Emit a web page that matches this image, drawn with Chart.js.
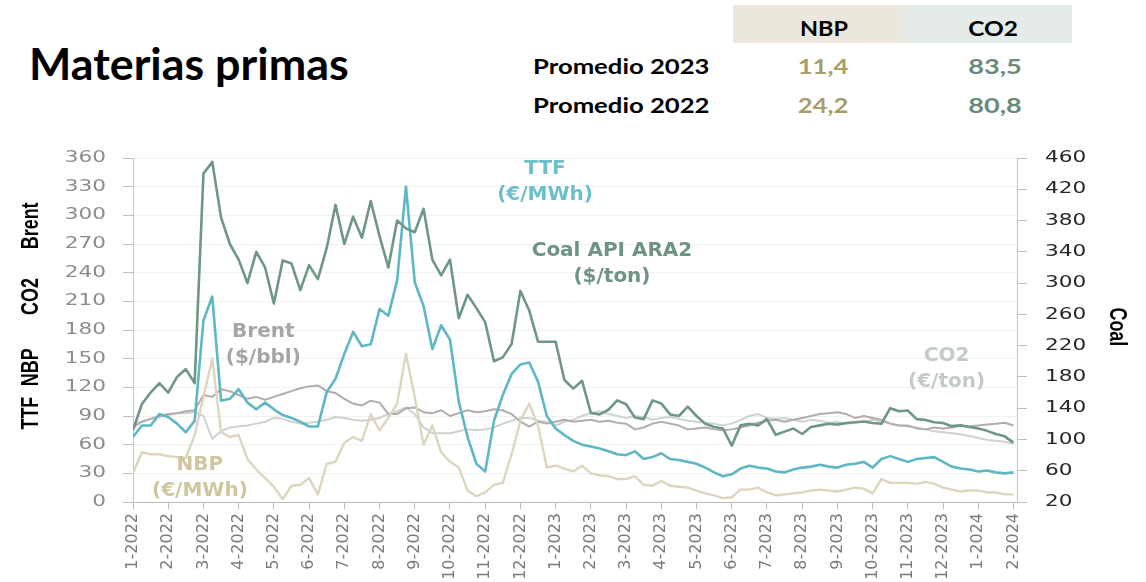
<!DOCTYPE html>
<html>
<head>
<meta charset="utf-8">
<title>Materias primas</title>
<script src="https://cdn.jsdelivr.net/npm/chart.js@4.4.1/dist/chart.umd.min.js"></script>
<style>
  body { margin: 0; width: 1146px; height: 582px; background: #fff; overflow: hidden; position: relative; font-family: Lato, "Open Sans", sans-serif; }
  .txt { position: absolute; font-weight: bold; line-height: 1; white-space: nowrap; font-size: 21px; color: #000; }
  .left { transform-origin: 0 50%; }
  .center { transform-origin: 50% 50%; }
  #title { left: 29px; top: 42px; font-size: 43px; }
  .band { position: absolute; top: 5px; height: 38px; }
  .nbp { color: #a99d6a; }
  .co2 { color: #6a8a7b; }
  #chartBox { position: absolute; left: 0; top: 140px; }
</style>
</head>
<body>
<div id="title" class="txt left" data-w="320">Materias primas</div>

<div class="band" style="left:733px;width:170px;background:#ebe7dc"></div>
<div class="band" style="left:903px;width:169px;background:#e5ebe8"></div>
<div class="txt center" style="left:824px;top:17px" data-w="48">NBP</div>
<div class="txt center" style="left:993px;top:17px" data-w="50">CO2</div>

<div class="txt left" style="left:533px;top:55px" data-w="176">Promedio 2023</div>
<div class="txt left" style="left:533px;top:94px" data-w="176">Promedio 2022</div>
<div class="txt center nbp" style="left:823px;top:55px" data-w="50">11,4</div>
<div class="txt center co2" style="left:995px;top:55px" data-w="53">83,5</div>
<div class="txt center nbp" style="left:823px;top:94px" data-w="50">24,2</div>
<div class="txt center co2" style="left:995px;top:94px" data-w="53">80,8</div>

<div id="chartBox"><canvas id="chart" width="1146" height="442"></canvas></div>

<script>
// eje X: un punto por semana (4 por mes), desde 1-2022 hasta 2-2024
const months = ["1-2022","2-2022","3-2022","4-2022","5-2022","6-2022","7-2022","8-2022","9-2022","10-2022","11-2022","12-2022",
  "1-2023","2-2023","3-2023","4-2023","5-2023","6-2023","7-2023","8-2023","9-2023","10-2023","11-2023","12-2023","1-2024","2-2024"];
const leftTicks = [0, 30, 60, 90, 120, 150, 180, 210, 240, 270, 300, 330, 360];
const rightTicks = [20, 60, 100, 140, 180, 220, 260, 300, 340, 380, 420, 460];
const stepsPerMonth = 4;

// Coal API ARA2 ($/ton), eje derecho
const coal = [
  112,145,160,172, 160,180,190,172, 440,455,384,350, 330,300,340,320,
  274,329,325,291, 323,305,345,400, 350,385,358,405, 360,320,380,370,
  365,395,330,310, 330,255,285,268, 250,200,205,222, 290,265,225,225,
  225,176,165,175, 134,132,138,150, 145,128,126,150, 146,132,130,142,
  130,120,116,114, 92,118,120,118, 126,106,110,114, 107,116,118,120,
  119,121,122,123, 121,120,140,136, 137,126,125,122, 121,117,118,116,
  114,111,107,104, 96
];
// TTF (€/MWh)
const ttf = [
  68,80,80,92, 89,82,73,85, 190,215,106,108, 118,104,97,104,
  97,91,88,84, 79,79,115,129, 155,178,163,165, 202,195,232,330,
  230,205,160,185, 170,105,68,40, 32,85,112,134, 144,146,126,90,
  77,70,64,60, 58,56,53,50, 49,53,45,47, 51,45,44,42,
  40,36,31,27, 29,35,38,36, 35,32,31,34, 36,37,39,37,
  36,39,40,42, 36,45,48,45, 42,45,46,47, 42,37,35,34,
  32,33,31,30, 31
];
// NBP (€/MWh)
const nbp = [
  30,52,50,50, 48,47,46,70, 110,150,73,68, 70,45,34,25,
  16,3,17,18, 25,8,40,42, 62,68,64,92, 75,88,103,155,
  110,60,80,52, 42,36,12,6, 10,18,20,50, 85,103,80,36,
  38,35,32,38, 30,28,27,24, 24,27,18,17, 22,17,16,15,
  12,9,7,4, 5,13,13,15, 10,7,8,9, 10,12,13,12,
  11,13,15,14, 9,24,20,20, 20,19,21,19, 15,13,11,12,
  12,10,10,8, 8
];
// Brent ($/bbl)
const brent = [
  78,84,87,90, 92,93,95,96, 112,110,118,116, 112,108,110,107,
  110,113,116,119, 121,122,116,114, 108,103,101,106, 104,92,92,98,
  99,94,93,96, 90,93,96,94, 95,97,96,92, 84,79,84,82,
  84,86,84,85, 86,84,85,83, 82,76,78,82, 84,82,80,76,
  77,78,76,75, 76,78,80,83, 85,86,84,86, 88,90,92,93,
  94,92,88,90, 88,86,82,80, 80,77,76,78, 77,78,80,79,
  80,81,82,83, 80
];
// CO2 (€/ton)
const co2 = [
  82,84,87,89, 91,93,93,94, 90,66,74,78, 79,80,82,84,
  88,87,84,82, 83,84,86,89, 88,86,85,86, 88,92,95,99,
  92,78,72,72, 72,74,76,75, 76,78,82,85, 88,88,85,84,
  80,84,86,90, 93,95,92,90, 88,90,89,86, 88,89,87,85,
  84,83,82,80, 82,86,90,92, 88,87,88,86, 84,86,85,83,
  84,82,83,84, 86,84,82,80, 79,78,76,74, 73,72,71,69,
  67,65,64,63, 61
];

// rótulos de series dentro del gráfico (mes, valor eje izq.)
const seriesLabels = [
  { lines: ["TTF", "(€/MWh)"], month: 11.7, value: 335, color: "#6dbfcb" },
  { lines: ["Coal API ARA2", "($/ton)"], month: 13.6, value: 249, color: "#6e9382" },
  { lines: ["Brent", "($/bbl)"], month: 3.7, value: 165, color: "#a5a5a5" },
  { lines: ["NBP", "(€/MWh)"], month: 1.9, value: 25, color: "#cfc59f" },
  { lines: ["CO2", "(€/ton)"], month: 23.1, value: 139, color: "#c2cbc6" }
];
const leftTitles = [["Brent", 289], ["CO2", 215], ["NBP", 141], ["TTF", 93]];
const rightTitle = ["Coal", 244];

const toPoints = arr => arr.map((v, i) => ({ x: i / stepsPerMonth, y: v }));

function scaledText(ctx, text, px, py, align, color, sx) {
  ctx.save();
  ctx.translate(px, py);
  ctx.scale(sx, 1);
  ctx.textAlign = align;
  ctx.fillStyle = color;
  ctx.fillText(text, 0, 0);
  ctx.restore();
}

function axisTitle(ctx, text, px, py, angle) {
  ctx.save();
  ctx.translate(px, py);
  ctx.rotate(angle);
  ctx.scale(0.78, 1); // letra condensada
  ctx.fillText(text, 0, 0);
  ctx.restore();
}

const textPlugin = {
  id: "texts",
  afterDraw(chart) {
    const { ctx, scales: { x, y, y2 } } = chart;
    ctx.save();
    ctx.textBaseline = "middle";

    // etiquetas de los ejes Y
    ctx.font = '16px "DejaVu Sans"';
    leftTicks.forEach(v => scaledText(ctx, String(v), y.right - 27, y.getPixelForValue(v), "right", "#8c8c8c", 1.35));
    rightTicks.forEach(v => scaledText(ctx, String(v), y2.left + 28, y2.getPixelForValue(v), "left", "#262626", 1.35));

    // títulos de eje
    ctx.font = 'bold 23px "Liberation Sans", Arial, sans-serif';
    ctx.fillStyle = "#000";
    ctx.textAlign = "center";
    leftTitles.forEach(([t, v]) => axisTitle(ctx, t, 32, y.getPixelForValue(v), -Math.PI / 2));
    axisTitle(ctx, rightTitle[0], 1116, y2.getPixelForValue(rightTitle[1]), Math.PI / 2);

    // nombres de series
    ctx.font = 'bold 20px "DejaVu Sans"';
    seriesLabels.forEach(s => {
      const cx = x.getPixelForValue(s.month);
      const cy = y.getPixelForValue(s.value);
      ctx.fillStyle = s.color;
      s.lines.forEach((ln, i) => ctx.fillText(ln, cx, cy + (i - (s.lines.length - 1) / 2) * 26));
    });
    ctx.restore();
  }
};

document.addEventListener("DOMContentLoaded", () => {
  // ajustar ancho de los textos del encabezado
  document.querySelectorAll("[data-w]").forEach(el => {
    const k = Number(el.dataset.w) / el.offsetWidth;
    el.style.transform = el.classList.contains("center") ? `translateX(-50%) scaleX(${k})` : `scaleX(${k})`;
  });

  const line = (label, data, color, width, axis, order) => ({
    label, data: toPoints(data), borderColor: color, borderWidth: width,
    yAxisID: axis, order, pointRadius: 0, tension: 0, borderJoinStyle: "round", fill: false
  });

  new Chart(document.getElementById("chart"), {
    type: "line",
    data: {
      datasets: [
        line("Coal API ARA2", coal, "#6e9784", 2.6, "y2", 1),
        line("TTF", ttf, "#5db8c4", 2.6, "y", 2),
        line("NBP", nbp, "#ddd5be", 2.4, "y", 3),
        line("Brent", brent, "#b4acac", 2, "y", 4),
        line("CO2", co2, "#cdd4d0", 2, "y", 5)
      ]
    },
    options: {
      responsive: false,
      animation: false,
      layout: { padding: { top: 18, left: 0, right: 0, bottom: 0 } },
      plugins: { legend: { display: false }, tooltip: { enabled: false } },
      scales: {
        x: {
          type: "linear", min: 0, max: 25.1,
          afterBuildTicks: s => { s.ticks = months.map((_, i) => ({ value: i })); },
          afterFit: s => { s.height = 80; },
          ticks: {
            autoSkip: false, minRotation: 90, maxRotation: 90, padding: 4,
            color: "#7a7a7a", font: { family: "DejaVu Sans", size: 16 },
            callback: v => months[v]
          },
          grid: { drawOnChartArea: false, tickLength: 7, tickColor: "#bfbfbf" },
          border: { color: "#bfbfbf" }
        },
        y: {
          position: "left", min: 0, max: 360,
          afterBuildTicks: s => { s.ticks = leftTicks.map(v => ({ value: v })); },
          afterFit: s => { s.width = 133; },
          ticks: { display: false },
          grid: { color: "#f1f1f1", tickLength: 10, tickColor: "#bfbfbf" },
          border: { color: "#c4c4c4" }
        },
        y2: {
          position: "right", min: 20, max: 460,
          afterBuildTicks: s => { s.ticks = rightTicks.map(v => ({ value: v })); },
          afterFit: s => { s.width = 129; },
          ticks: { display: false },
          grid: { drawOnChartArea: false, tickLength: 10, tickColor: "#bfbfbf" },
          border: { color: "#c4c4c4" }
        }
      }
    },
    plugins: [textPlugin]
  });
});
</script>
</body>
</html>
